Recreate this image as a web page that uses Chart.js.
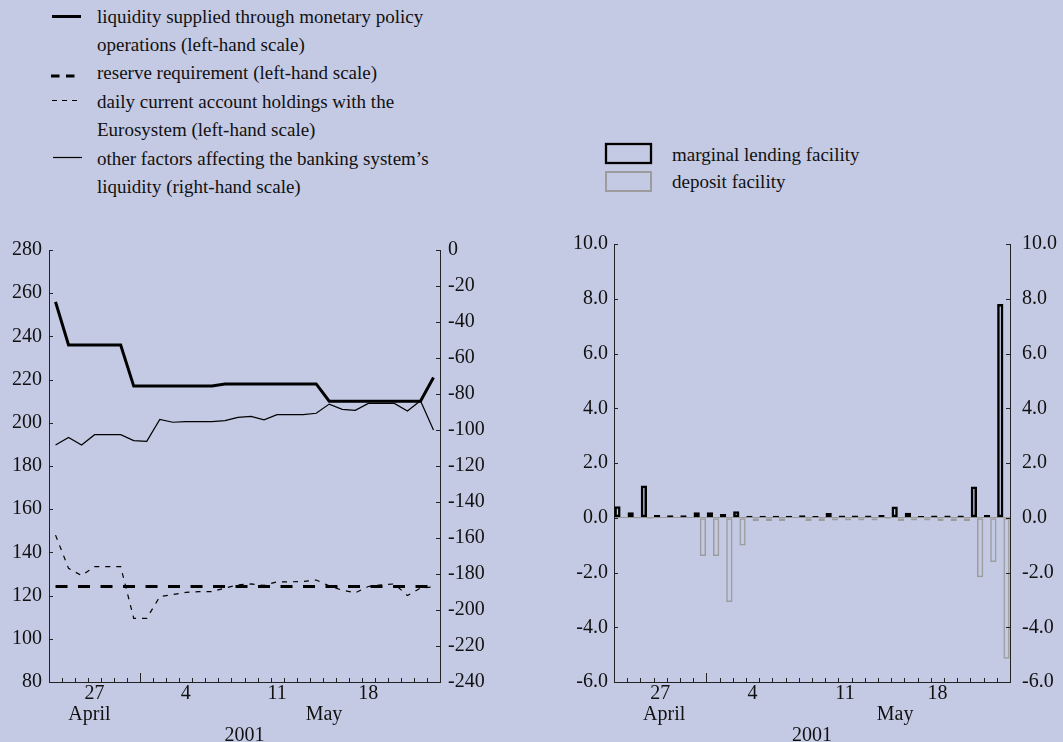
<!DOCTYPE html>
<html><head><meta charset="utf-8">
<script src="https://cdn.jsdelivr.net/npm/chart.js@4.4.1/dist/chart.umd.min.js"></script>
<style>
html,body{margin:0;padding:0;width:1063px;height:742px;overflow:hidden;background:#c5cae4;font-family:'Liberation Serif','Times New Roman',serif;color:#111;}
.t{position:absolute;font-size:19px;line-height:28px;white-space:nowrap;}
canvas{position:absolute;}
svg{position:absolute;left:0;top:0;}
</style></head><body>
<svg width="1063" height="220">
 <line x1="52" y1="16.5" x2="81" y2="16.5" stroke="#000" stroke-width="3"/>
 <line x1="51" y1="76" x2="75" y2="76" stroke="#000" stroke-width="3" stroke-dasharray="8.5 6.5"/>
 <line x1="52" y1="100.5" x2="77" y2="100.5" stroke="#000" stroke-width="1.2" stroke-dasharray="5 5"/>
 <line x1="53" y1="157.5" x2="82" y2="157.5" stroke="#000" stroke-width="1.2"/>
 <rect x="606" y="144" width="45" height="19" fill="none" stroke="#000" stroke-width="2.3"/>
 <rect x="606" y="172" width="45" height="19" fill="none" stroke="#9c9c9c" stroke-width="2"/>
</svg>
<div class="t" style="left:97px;top:2.7px">liquidity supplied through monetary policy</div>
<div class="t" style="left:97px;top:31px">operations (left-hand scale)</div>
<div class="t" style="left:97px;top:59.3px">reserve requirement (left-hand scale)</div>
<div class="t" style="left:97px;top:87.7px">daily current account holdings with the</div>
<div class="t" style="left:97px;top:116px">Eurosystem (left-hand scale)</div>
<div class="t" style="left:97px;top:145px">other factors affecting the banking system’s</div>
<div class="t" style="left:97px;top:173.3px">liquidity (right-hand scale)</div>
<div class="t" style="left:672px;top:141px">marginal lending facility</div>
<div class="t" style="left:672px;top:167.7px">deposit facility</div>

<canvas id="c1" width="530" height="528" style="left:0;top:220px"></canvas>
<canvas id="c2" width="503" height="528" style="left:560px;top:220px"></canvas>

<script>
// ---- data ----
const days = [24,25,26,27,28,29,30,1,2,3,4,5,6,7,8,9,10,11,12,13,14,15,16,17,18,19,20,21,22,23];
const dayTickLabels = ['27','4','11','18'];
const monthLabels = ['April','May'];
const yearLabel = '2001';

const liquiditySupplied = [256,236,236,236,236,236,217,217,217,217,217,217,217,218,218,218,218,218,218,218,218,210,210,210,210,210,210,210,210,221];
const reserveRequirement = [124.2,124.2,124.2,124.2,124.2,124.2,124.2,124.2,124.2,124.2,124.2,124.2,124.2,124.2,124.2,124.2,124.2,124.2,124.2,124.2,124.2,124.2,124.2,124.2,124.2,124.2,124.2,124.2,124.2,124.2];
const currentAccounts = [148,132.6,129.3,133.4,133.4,133.4,109.5,109.5,119.5,120.5,121.5,121.8,121.8,123.5,125,125.4,124.7,126.4,126.4,126.5,127.2,124.5,122.5,121.3,124.2,125,125.4,120,123.5,124];
const otherFactors = [-108.3,-104.1,-108.3,-102.6,-102.6,-102.6,-105.9,-106.3,-94.1,-95.7,-95.4,-95.4,-95.4,-94.8,-93.0,-92.4,-94.4,-91.5,-91.5,-91.5,-90.7,-85.6,-88.5,-89.1,-85.2,-85.2,-85.2,-89.4,-83.7,-100];

const marginalLending = [0.42,0.2,1.18,0.1,0.09,0.09,0.2,0.2,0.14,0.24,0.07,0.07,0.07,0.07,0.09,0.06,0.17,0.08,0.08,0.08,0.1,0.41,0.18,0.06,0.08,0.08,0.08,1.14,0.1,7.81];
const depositFacility = [-0.03,-0.04,-0.05,-0.02,-0.02,-0.02,-1.40,-1.40,-3.08,-1.01,-0.12,-0.12,-0.12,-0.03,-0.12,-0.12,-0.1,-0.1,-0.1,-0.1,-0.05,-0.12,-0.1,-0.1,-0.12,-0.12,-0.12,-2.17,-1.62,-5.15];

// ---- styling / layout ----
const FONT = "'Liberation Serif','Times New Roman',serif";
Chart.defaults.font.family = FONT;
Chart.defaults.font.size = 20;
Chart.defaults.color = '#111';
const AXIS = '#222';
const font = {family: FONT, size: 20};

const toXY = arr => arr.map((v, i) => ({x: i + 0.5, y: v}));

const innerTicks = {
  id: 'innerTicks',
  afterDatasetsDraw(chart) {
    const {ctx, chartArea: a, scales} = chart;
    ctx.save();
    ctx.strokeStyle = AXIS; ctx.lineWidth = 1;
    ctx.beginPath();
    const x = scales.x;
    for (let i = 1; i < days.length; i++) {
      const px = Math.round(x.getPixelForValue(i)) + 0.5;
      const len = days[i] === 1 ? 9 : 4;
      ctx.moveTo(px, a.bottom); ctx.lineTo(px, a.bottom - len);
    }
    ['y', 'y1'].forEach(id => {
      const s = scales[id];
      const left = s.position === 'left';
      s.ticks.forEach(t => {
        const py = Math.round(s.getPixelForValue(t.value)) + 0.5;
        const x0 = left ? a.left : a.right;
        ctx.moveTo(x0, py); ctx.lineTo(left ? x0 + 4 : x0 - 4, py);
      });
    });
    ctx.stroke();
    ctx.restore();
  }
};

function xAxes(monthPos) {
  return {
    x: {
      type: 'linear', min: 0, max: days.length, position: 'bottom', weight: 0, offset: false,
      grid: {display: false, drawTicks: false, offset: false},
      border: {display: true, color: AXIS, width: 1},
      afterBuildTicks: s => { s.ticks = dayTickLabels.map(l => ({value: days.indexOf(+l) + 0.5})); },
      ticks: {autoSkip: false, maxRotation: 0, padding: 0, color: '#111', font, callback: (v, i) => dayTickLabels[i]},
      afterFit: s => { s.height = 20; }
    },
    xm: {
      type: 'linear', min: 0, max: days.length, position: 'bottom', weight: 1, offset: false,
      grid: {display: false, drawTicks: false, offset: false},
      border: {display: false},
      afterBuildTicks: s => { s.ticks = monthPos.map(v => ({value: v})); },
      ticks: {autoSkip: false, maxRotation: 0, padding: 1, color: '#111', font, callback: (v, i) => monthLabels[i]},
      title: {display: true, text: yearLabel, color: '#111', font: {family: FONT, size: 20, lineHeight: 1.2}, padding: 0},
      afterFit: s => { s.height = 46; }
    }
  };
}

function yAxis(pos, min, max, step, width, pad, fmt, gridColor) {
  return {
    type: 'linear', position: pos, min, max,
    grid: gridColor ? {display: true, drawTicks: false, drawOnChartArea: true, color: gridColor, lineWidth: 1}
                    : {display: false, drawTicks: false},
    border: {display: true, color: AXIS, width: 1},
    ticks: {stepSize: step, padding: pad, color: '#111', font, callback: fmt},
    afterFit: s => { s.width = width; }
  };
}

// ---- left chart ----
new Chart(document.getElementById('c1'), {
  type: 'line',
  data: {
    datasets: [
      {label: 'liquidity supplied through monetary policy operations', data: toXY(liquiditySupplied), yAxisID: 'y',
       borderColor: '#000', borderWidth: 3, pointRadius: 0, tension: 0, fill: false},
      {label: 'reserve requirement', data: toXY(reserveRequirement), yAxisID: 'y',
       borderColor: '#000', borderWidth: 3, borderDash: [12, 10.5], pointRadius: 0, tension: 0, fill: false},
      {label: "other factors affecting the banking system's liquidity", data: toXY(otherFactors), yAxisID: 'y1',
       borderColor: '#000', borderWidth: 1.2, pointRadius: 0, tension: 0, fill: false},
      {label: 'daily current account holdings with the Eurosystem', data: toXY(currentAccounts), yAxisID: 'y',
       borderColor: '#000', borderWidth: 1.2, borderDash: [5, 6], pointRadius: 0, tension: 0, fill: false}
    ]
  },
  options: {
    responsive: false, animation: false, devicePixelRatio: 1,
    layout: {padding: {top: 30, left: 0, right: 0, bottom: 0}},
    plugins: {legend: {display: false}, tooltip: {enabled: false}},
    scales: Object.assign(xAxes([3.1, 21.1]), {
      y: yAxis('left', 80, 280, 20, 49, 7, v => String(v)),
      y1: yAxis('right', -240, 0, 20, 90, 8, v => String(v))
    })
  },
  plugins: [innerTicks]
});

// ---- right chart ----
new Chart(document.getElementById('c2'), {
  type: 'bar',
  data: {
    datasets: [
      {label: 'marginal lending facility', data: toXY(marginalLending), xAxisID: 'x', yAxisID: 'y',
       backgroundColor: 'rgba(0,0,0,0)', borderColor: '#000', borderWidth: 2.5, borderSkipped: false,
       categoryPercentage: 0.95, barPercentage: 1.0},
      {label: 'deposit facility', data: toXY(depositFacility), xAxisID: 'x', yAxisID: 'y',
       backgroundColor: 'rgba(0,0,0,0)', borderColor: '#9c9c9c', borderWidth: 1.5, borderSkipped: false,
       categoryPercentage: 0.95, barPercentage: 1.0}
    ]
  },
  options: {
    responsive: false, animation: false, devicePixelRatio: 1,
    layout: {padding: {top: 23, left: 0, right: 0, bottom: 0}},
    plugins: {legend: {display: false}, tooltip: {enabled: false}},
    scales: Object.assign(xAxes([3.8, 21.3]), {
      y: yAxis('left', -6, 10, 2, 54, 6, v => v.toFixed(1),
               c => (c.tick && c.tick.value === 0) ? '#9c9c9c' : 'rgba(0,0,0,0)'),
      y1: yAxis('right', -6, 10, 2, 53, 12, v => v.toFixed(1))
    })
  },
  plugins: [innerTicks]
});
</script>
</body></html>
